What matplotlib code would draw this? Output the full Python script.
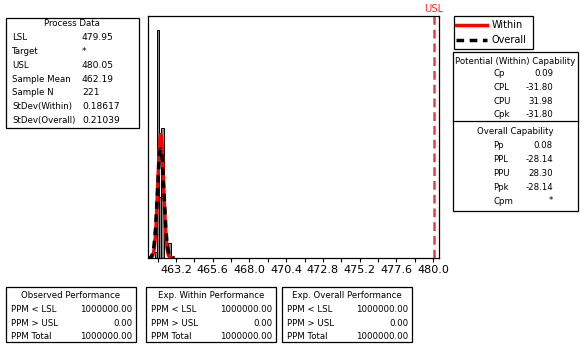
import numpy as np
import matplotlib
matplotlib.use("Agg")
import matplotlib.pyplot as plt
from matplotlib.patches import Rectangle

plt.rcParams['font.family'] = ['DejaVu Sans']

# process data
lsl = 479.95
usl = 480.05
mean = 462.19
n = 221
sd_within = 0.18617
sd_overall = 0.21039

proc_labels = ["LSL", "Target", "USL", "Sample Mean", "Sample N", "StDev(Within)", "StDev(Overall)"]
proc_values = ["479.95", "*", "480.05", "462.19", "221", "0.18617", "0.21039"]

# histogram bars (left edge, width, density)
bar_left = [461.80, 461.98, 462.10, 462.20, 462.66]
bar_width = [0.18, 0.12, 0.20, 0.22, 0.22]
bar_dens = [0.10, 3.96, 1.06, 2.26, 0.26]

pot_labels = ["Cp", "CPL", "CPU", "Cpk"]
pot_values = ["0.09", "-31.80", "31.98", "-31.80"]
ovr_labels = ["Pp", "PPL", "PPU", "Ppk", "Cpm"]
ovr_values = ["0.08", "-28.14", "28.30", "-28.14", "*"]

perf_titles = ["Observed Performance", "Exp. Within Performance", "Exp. Overall Performance"]
perf_labels = ["PPM < LSL", "PPM > USL", "PPM Total"]
perf_values = [["1000000.00", "0.00", "1000000.00"],
               ["1000000.00", "0.00", "1000000.00"],
               ["1000000.00", "0.00", "1000000.00"]]

W, H = 588, 345
fig = plt.figure(figsize=(W/100, H/100), dpi=100)

# main histogram axes (pixel layout converted to fractions)
ax = fig.add_axes([148/W, 1-258/H, (439-148)/W, (258-16)/H])
ax.bar(bar_left, bar_dens, width=bar_width, align='edge', color='#8a8a8a',
       edgecolor='black', linewidth=0.7)
xs = np.linspace(461.3, 463.1, 400)
pdf_w = np.exp(-0.5*((xs-mean)/sd_within)**2)/(sd_within*np.sqrt(2*np.pi))
pdf_o = np.exp(-0.5*((xs-mean)/sd_overall)**2)/(sd_overall*np.sqrt(2*np.pi))
ax.plot(xs, pdf_w, color='red', lw=2.5, solid_capstyle='butt')
ax.plot(xs, pdf_o, color='black', lw=2.5, dashes=(2.2, 1.6))
ax.axvline(usl, color='#f03c3c', lw=1.8, dashes=(3.5, 2))
ax.text(usl, 4.2*1.01, "USL", color='#ff2a2a', ha='center', va='bottom', fontsize=7.2)
ax.set_xlim(461.36, 480.4)
ax.set_ylim(0, 4.2)
ax.set_yticks([])
ticks = np.round(np.arange(463.2, 480.01, 2.4), 1)
ax.set_xticks(ticks)
ax.set_xticklabels(["%.1f" % t for t in ticks], fontsize=8)
ax.set_xticks(np.arange(462.0, 480.1, 1.2), minor=True)
ax.tick_params(axis='x', which='both', length=3, width=0.8, pad=2)
for s in ax.spines.values():
    s.set_linewidth(0.9)

# overlay for the text boxes, in pixel coordinates
ov = fig.add_axes([0, 0, 1, 1], facecolor='none')
ov.set_xlim(0, W)
ov.set_ylim(H, 0)
ov.axis('off')
fs = 6.2

def box(x0, y0, x1, y1):
    ov.add_patch(Rectangle((x0, y0), x1-x0, y1-y0, fill=False, ec='black', lw=0.9))

# process data box
box(6, 18, 139, 128)
ov.text(72, 24, "Process Data", ha='center', va='center', fontsize=fs)
for i, (l, v) in enumerate(zip(proc_labels, proc_values)):
    y = 38 + i*13.7
    ov.text(12, y, l, ha='left', va='center', fontsize=fs)
    ov.text(82, y, v, ha='left', va='center', fontsize=6.6)

# legend
box(454, 16, 533, 49)
ov.plot([456, 487], [25, 25], color='red', lw=2.5)
ov.plot([456, 487], [40, 40], color='black', lw=2.5, dashes=(2.2, 1.6))
ov.text(492, 25, "Within", ha='left', va='center', fontsize=7)
ov.text(492, 40, "Overall", ha='left', va='center', fontsize=7)

# capability box
box(453, 52, 578, 211)
ov.plot([453, 578], [121, 121], color='black', lw=0.9)
ov.text(515, 61, "Potential (Within) Capability", ha='center', va='center', fontsize=fs)
for i, (l, v) in enumerate(zip(pot_labels, pot_values)):
    y = 74 + i*13.5
    ov.text(493, y, l, ha='left', va='center', fontsize=fs)
    ov.text(553, y, v, ha='right', va='center', fontsize=fs)
ov.text(515, 131, "Overall Capability", ha='center', va='center', fontsize=fs)
for i, (l, v) in enumerate(zip(ovr_labels, ovr_values)):
    y = 145 + i*14
    ov.text(493, y, l, ha='left', va='center', fontsize=fs)
    ov.text(553, y, v, ha='right', va='center', fontsize=fs)

# performance boxes
for k, x0 in enumerate([6, 146, 282]):
    box(x0, 287, x0+130, 342)
    ov.text(x0+65, 296, perf_titles[k], ha='center', va='center', fontsize=fs)
    for i in range(3):
        y = 310 + i*13.3
        ov.text(x0+5, y, perf_labels[i], ha='left', va='center', fontsize=fs)
        ov.text(x0+126, y, perf_values[k][i], ha='right', va='center', fontsize=fs)

fig.savefig("out.png", dpi=100)
